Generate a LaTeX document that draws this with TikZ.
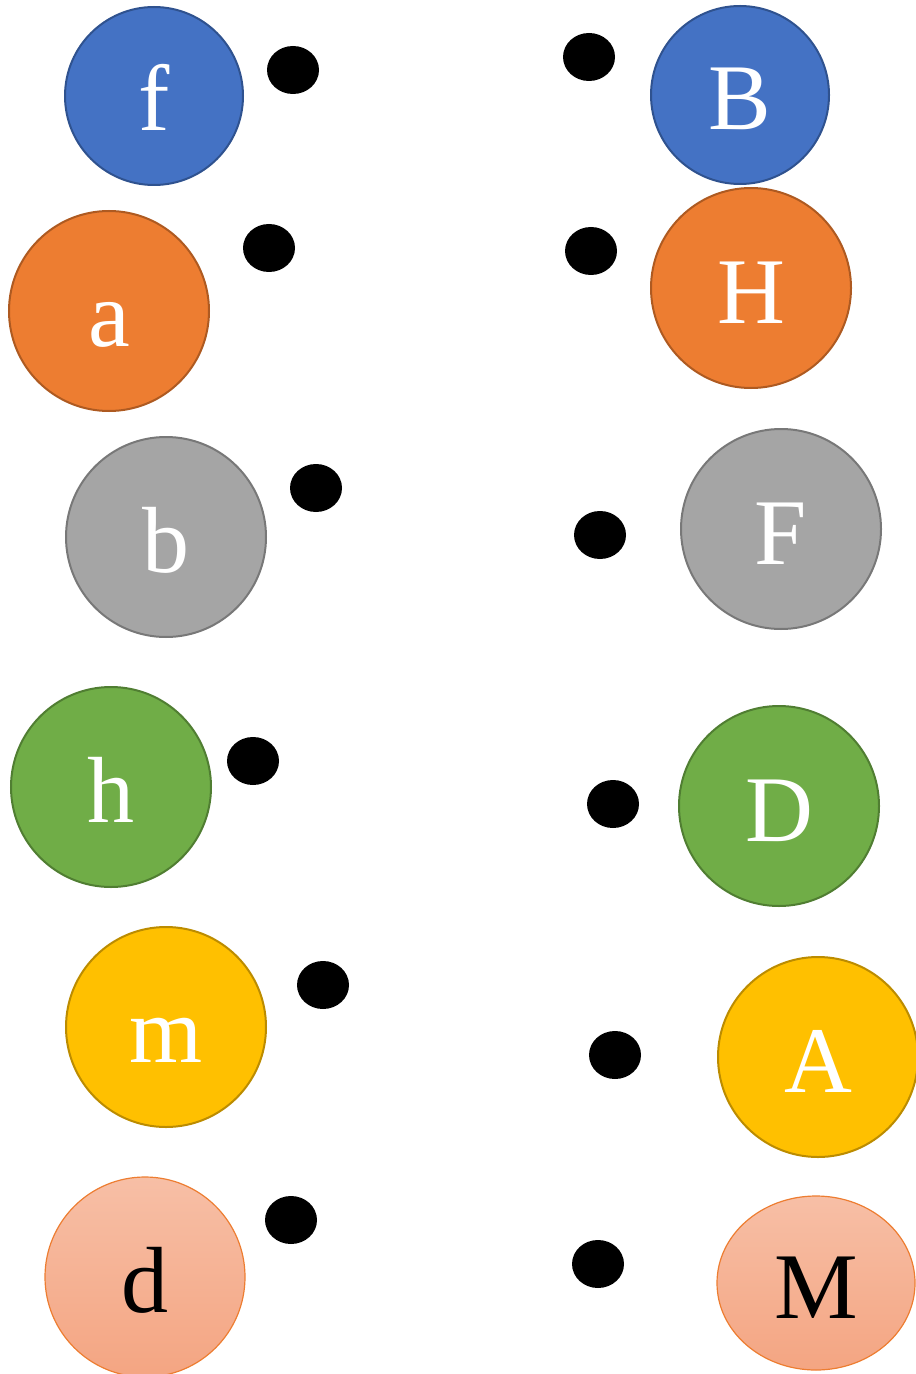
\documentclass[tikz,border=0pt]{standalone}
\usepackage{fontspec}
\setmainfont{Liberation Serif}
\usetikzlibrary{shapes.geometric}
\definecolor{cblue}{HTML}{4472C4}\definecolor{cblueb}{HTML}{2F528F}
\definecolor{corange}{HTML}{ED7D31}\definecolor{corangeb}{HTML}{AE5A21}
\definecolor{cgray}{HTML}{A5A5A5}\definecolor{cgrayb}{HTML}{787878}
\definecolor{cgreen}{HTML}{70AD47}\definecolor{cgreenb}{HTML}{507E32}
\definecolor{cgold}{HTML}{FFC000}\definecolor{cgoldb}{HTML}{BC8C00}
\definecolor{csalt}{HTML}{F7BFA6}\definecolor{csalb}{HTML}{F4A582}
\tikzset{
  ball/.style={circle, draw=#1b, fill=#1, line width=1pt, minimum size=100pt, inner sep=0pt,
    text=white, font=\fontsize{47}{50}\selectfont, text height=40pt, text depth=5pt},
  salball/.style={draw=corange, line width=0.6pt, top color=csalt, bottom color=csalb,
    inner sep=0pt, text=black, font=\fontsize{47}{50}\selectfont, text height=40pt, text depth=5pt},
  dot/.style={ellipse, fill=black, minimum width=26pt, minimum height=24pt, inner sep=0pt}
}
\begin{document}
\begin{tikzpicture}[x=0.5pt,y=-0.5pt]
\useasboundingbox (0,0) rectangle (915,1374);
\node[ball=cblue, minimum size=89pt] (f) at (154,96) {f};
\node[ball=cblue, minimum size=89pt] (B) at (740,95) {B};
\node[ball=corange] (a) at (109,311) {a};
\node[ball=corange] (H) at (751,288) {H};
\node[ball=cgray] (b) at (166,537) {b};
\node[ball=cgray] (F) at (781,529) {F};
\node[ball=cgreen] (h) at (111,787) {h};
\node[ball=cgreen] (D) at (779,806) {D};
\node[ball=cgold] (m) at (166,1027) {m};
\node[ball=cgold] (A) at (818,1057) {A};
\node[salball, circle, minimum size=100pt] (d) at (145,1277) {d};
\node[salball, ellipse, minimum width=99pt, minimum height=87pt] (M) at (816,1283) {M};
\node[dot] (p1) at (293,70) {};
\node[dot] (q1) at (589,57) {};
\node[dot] (p2) at (269,248) {};
\node[dot] (q2) at (591,251) {};
\node[dot] (p3) at (316,488) {};
\node[dot] (q3) at (600,535) {};
\node[dot] (p4) at (253,761) {};
\node[dot] (q4) at (613,804) {};
\node[dot] (p5) at (323,985) {};
\node[dot] (q5) at (615,1055) {};
\node[dot] (p6) at (291,1220) {};
\node[dot] (q6) at (598,1264) {};
\end{tikzpicture}
\end{document}
